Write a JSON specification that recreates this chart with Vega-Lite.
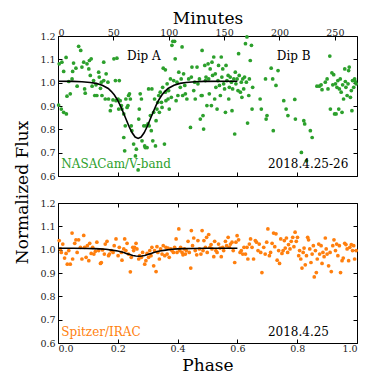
{
  "$schema": "https://vega.github.io/schema/vega-lite/v6.json",
  "background": "white",
  "padding": {"left": 12, "top": 8, "right": 5, "bottom": 0},
  "spacing": 27,
  "bounds": "flush",
  "config": {
    "font": "DejaVu Serif",
    "view": {"stroke": "black", "strokeWidth": 1},
    "axis": {
      "grid": false, "domain": false, "tickColor": "black", "tickSize": -4, "tickWidth": 1,
      "labelFont": "DejaVu Serif", "labelFontSize": 9.5, "labelColor": "#222",
      "titleFont": "DejaVu Serif", "titleFontSize": 17, "titleFontWeight": "normal", "titleColor": "black"
    }
  },
  "datasets": {
    "green": [
      {"phase":0.002,"flux":0.904},{"phase":0.004,"flux":1.081},{"phase":0.013,"flux":1.088},{"phase":0.019,"flux":1.048},{"phase":0.011,"flux":0.887},{"phase":0.019,"flux":0.873},{"phase":0.028,"flux":0.866},{"phase":0.030,"flux":0.942},{"phase":0.027,"flux":1.108},{"phase":0.036,"flux":1.005},{"phase":0.041,"flux":0.952},{"phase":0.047,"flux":1.016},{"phase":0.049,"flux":1.048},{"phase":0.052,"flux":1.084},{"phase":0.060,"flux":1.062},{"phase":0.064,"flux":0.985},{"phase":0.069,"flux":1.156},{"phase":0.076,"flux":1.138},{"phase":0.080,"flux":1.067},{"phase":0.086,"flux":1.088},{"phase":0.089,"flux":0.973},{"phase":0.091,"flux":0.955},{"phase":0.097,"flux":1.081},
      {"phase":0.103,"flux":1.059},{"phase":0.105,"flux":1.095},{"phase":0.108,"flux":1.031},{"phase":0.111,"flux":1.102},{"phase":0.114,"flux":0.985},{"phase":0.119,"flux":1.009},{"phase":0.123,"flux":0.945},{"phase":0.127,"flux":0.991},{"phase":0.130,"flux":0.945},{"phase":0.136,"flux":1.045},{"phase":0.138,"flux":1.024},{"phase":0.142,"flux":0.976},{"phase":0.145,"flux":1.002},{"phase":0.147,"flux":0.945},{"phase":0.153,"flux":1.088},{"phase":0.153,"flux":1.009},{"phase":0.158,"flux":0.930},{"phase":0.161,"flux":1.038},{"phase":0.167,"flux":1.002},{"phase":0.169,"flux":0.930},{"phase":0.175,"flux":0.880},{"phase":0.178,"flux":0.902},{"phase":0.184,"flux":0.926},{"phase":0.187,"flux":1.102},{"phase":0.192,"flux":1.009},{"phase":0.194,"flux":0.923},
      {"phase":0.197,"flux":1.105},{"phase":0.201,"flux":0.930},{"phase":0.203,"flux":0.887},{"phase":0.205,"flux":1.009},{"phase":0.208,"flux":0.923},{"phase":0.212,"flux":0.902},{"phase":0.214,"flux":0.887},{"phase":0.220,"flux":0.866},{"phase":0.220,"flux":0.765},{"phase":0.223,"flux":0.708},{"phase":0.225,"flux":0.815},{"phase":0.227,"flux":0.930},{"phase":0.231,"flux":0.894},{"phase":0.234,"flux":0.902},{"phase":0.236,"flux":0.945},{"phase":0.239,"flux":0.952},{"phase":0.242,"flux":0.930},{"phase":0.245,"flux":0.815},{"phase":0.247,"flux":0.794},{"phase":0.253,"flux":0.737},{"phase":0.259,"flux":0.686},{"phase":0.262,"flux":0.715},{"phase":0.268,"flux":0.626},{"phase":0.270,"flux":0.844},{"phase":0.272,"flux":0.887},{"phase":0.275,"flux":0.952},{"phase":0.279,"flux":0.930},{"phase":0.281,"flux":0.751},{"phase":0.287,"flux":0.815},{"phase":0.290,"flux":0.729},{"phase":0.292,"flux":0.722},{"phase":0.294,"flux":0.815},{"phase":0.298,"flux":0.722},
      {"phase":0.301,"flux":0.823},{"phase":0.303,"flux":0.973},{"phase":0.305,"flux":0.815},{"phase":0.309,"flux":0.859},{"phase":0.312,"flux":0.794},{"phase":0.314,"flux":0.973},{"phase":0.317,"flux":0.751},{"phase":0.320,"flux":0.873},{"phase":0.323,"flux":0.930},{"phase":0.326,"flux":0.729},{"phase":0.328,"flux":0.837},{"phase":0.331,"flux":0.887},{"phase":0.334,"flux":0.916},{"phase":0.337,"flux":0.945},{"phase":0.339,"flux":0.873},{"phase":0.342,"flux":0.959},{"phase":0.346,"flux":0.916},{"phase":0.348,"flux":0.894},{"phase":0.350,"flux":0.980},{"phase":0.352,"flux":1.062},{"phase":0.356,"flux":0.737},{"phase":0.359,"flux":1.055},{"phase":0.359,"flux":0.959},{"phase":0.361,"flux":0.923},{"phase":0.365,"flux":0.995},{"phase":0.368,"flux":0.930},{"phase":0.370,"flux":0.966},{"phase":0.372,"flux":0.887},{"phase":0.376,"flux":1.016},{"phase":0.379,"flux":0.937},{"phase":0.381,"flux":1.160},{"phase":0.384,"flux":1.177},{"phase":0.387,"flux":1.009},{"phase":0.390,"flux":1.177},{"phase":0.392,"flux":1.102},{"phase":0.395,"flux":0.923},{"phase":0.398,"flux":1.002},
      {"phase":0.401,"flux":0.945},{"phase":0.404,"flux":1.045},{"phase":0.409,"flux":0.980},{"phase":0.412,"flux":1.016},{"phase":0.415,"flux":1.153},{"phase":0.417,"flux":0.945},{"phase":0.420,"flux":1.038},{"phase":0.424,"flux":0.988},{"phase":0.426,"flux":0.952},{"phase":0.431,"flux":0.930},{"phase":0.437,"flux":1.016},{"phase":0.443,"flux":0.808},{"phase":0.446,"flux":1.024},{"phase":0.448,"flux":1.067},{"phase":0.454,"flux":0.966},{"phase":0.457,"flux":1.002},{"phase":0.459,"flux":0.930},{"phase":0.465,"flux":1.067},{"phase":0.468,"flux":0.995},{"phase":0.473,"flux":1.016},{"phase":0.476,"flux":0.844},{"phase":0.479,"flux":0.945},{"phase":0.482,"flux":1.138},{"phase":0.482,"flux":0.945},{"phase":0.485,"flux":0.859},{"phase":0.487,"flux":0.801},{"phase":0.491,"flux":1.074},{"phase":0.493,"flux":1.009},{"phase":0.495,"flux":1.024},{"phase":0.498,"flux":0.902},
      {"phase":0.502,"flux":1.081},{"phase":0.504,"flux":1.016},{"phase":0.506,"flux":0.952},{"phase":0.509,"flux":1.059},{"phase":0.513,"flux":0.902},{"phase":0.515,"flux":1.088},{"phase":0.517,"flux":1.031},{"phase":0.521,"flux":1.110},{"phase":0.524,"flux":0.930},{"phase":0.526,"flux":1.038},{"phase":0.528,"flux":0.980},{"phase":0.532,"flux":0.887},{"phase":0.535,"flux":1.009},{"phase":0.537,"flux":1.074},{"phase":0.540,"flux":0.988},{"phase":0.543,"flux":0.945},{"phase":0.546,"flux":1.110},{"phase":0.548,"flux":1.024},{"phase":0.551,"flux":1.059},{"phase":0.554,"flux":0.995},{"phase":0.557,"flux":0.973},{"phase":0.560,"flux":0.873},{"phase":0.562,"flux":1.074},{"phase":0.565,"flux":1.009},{"phase":0.569,"flux":1.031},{"phase":0.571,"flux":0.930},{"phase":0.573,"flux":0.980},{"phase":0.576,"flux":1.024},{"phase":0.580,"flux":1.002},{"phase":0.582,"flux":0.880},{"phase":0.584,"flux":0.973},{"phase":0.588,"flux":1.016},{"phase":0.591,"flux":0.780},{"phase":0.593,"flux":1.045},{"phase":0.595,"flux":0.995},{"phase":0.599,"flux":1.016},
      {"phase":0.602,"flux":0.966},{"phase":0.604,"flux":1.124},{"phase":0.606,"flux":1.031},{"phase":0.610,"flux":0.959},{"phase":0.613,"flux":1.002},{"phase":0.615,"flux":0.937},{"phase":0.618,"flux":1.016},{"phase":0.621,"flux":0.973},{"phase":0.624,"flux":1.024},{"phase":0.627,"flux":1.167},{"phase":0.630,"flux":1.002},{"phase":0.632,"flux":1.196},{"phase":0.634,"flux":0.827},{"phase":0.638,"flux":0.945},{"phase":0.640,"flux":1.016},{"phase":0.643,"flux":1.095},{"phase":0.647,"flux":1.160},{"phase":0.649,"flux":0.887},{"phase":0.651,"flux":0.980},{"phase":0.676,"flux":0.930},{"phase":0.680,"flux":0.887},{"phase":0.694,"flux":1.016},{"phase":0.699,"flux":0.859},{"phase":0.696,"flux":0.844},
      {"phase":0.713,"flux":1.062},{"phase":0.718,"flux":1.016},{"phase":0.720,"flux":0.794},{"phase":0.729,"flux":0.988},{"phase":0.736,"flux":1.052},{"phase":0.755,"flux":0.923},{"phase":0.763,"flux":0.887},{"phase":0.769,"flux":0.859},{"phase":0.792,"flux":0.928},{"phase":0.794,"flux":0.844},{"phase":0.814,"flux":0.701},{"phase":0.822,"flux":0.837},{"phase":0.825,"flux":0.823},{"phase":0.831,"flux":0.665},{"phase":0.844,"flux":0.794},{"phase":0.850,"flux":0.765},
      {"phase":0.866,"flux":0.985},{"phase":0.874,"flux":0.985},{"phase":0.883,"flux":0.970},{"phase":0.880,"flux":0.991},{"phase":0.894,"flux":1.002},{"phase":0.900,"flux":1.016},{"phase":0.903,"flux":0.973},{"phase":0.909,"flux":1.114},{"phase":0.911,"flux":0.887},{"phase":0.916,"flux":1.042},{"phase":0.919,"flux":0.991},{"phase":0.922,"flux":1.034},{"phase":0.925,"flux":0.866},{"phase":0.928,"flux":0.995},{"phase":0.930,"flux":0.866},{"phase":0.933,"flux":0.980},{"phase":0.936,"flux":1.009},{"phase":0.939,"flux":0.887},{"phase":0.941,"flux":0.973},{"phase":0.944,"flux":1.016},{"phase":0.947,"flux":0.959},{"phase":0.950,"flux":0.873},{"phase":0.952,"flux":0.991},{"phase":0.955,"flux":0.930},{"phase":0.959,"flux":1.059},{"phase":0.961,"flux":1.005},{"phase":0.963,"flux":0.980},{"phase":0.967,"flux":0.945},{"phase":0.970,"flux":0.995},{"phase":0.972,"flux":1.052},{"phase":0.974,"flux":1.067},{"phase":0.978,"flux":0.937},{"phase":0.981,"flux":0.966},{"phase":0.983,"flux":0.880},{"phase":0.985,"flux":1.009},{"phase":0.989,"flux":0.980},{"phase":0.992,"flux":1.016},{"phase":0.994,"flux":1.005},{"phase":0.997,"flux":0.995}
    ],
    "orange": [
      {"phase":0.004,"flux":1.039},{"phase":0.008,"flux":1.003},{"phase":0.011,"flux":0.988},{"phase":0.016,"flux":1.024},{"phase":0.022,"flux":0.964},{"phase":0.027,"flux":0.984},{"phase":0.031,"flux":0.938},{"phase":0.036,"flux":0.996},{"phase":0.041,"flux":0.938},{"phase":0.047,"flux":1.071},{"phase":0.049,"flux":0.960},{"phase":0.056,"flux":1.027},{"phase":0.060,"flux":1.042},{"phase":0.064,"flux":0.988},{"phase":0.069,"flux":1.042},{"phase":0.075,"flux":1.010},{"phase":0.080,"flux":0.960},{"phase":0.086,"flux":1.061},{"phase":0.089,"flux":1.010},{"phase":0.094,"flux":0.967},{"phase":0.098,"flux":1.017},
      {"phase":0.103,"flux":0.953},{"phase":0.106,"flux":1.027},{"phase":0.111,"flux":0.984},{"phase":0.116,"flux":1.010},{"phase":0.120,"flux":0.981},{"phase":0.125,"flux":0.993},{"phase":0.130,"flux":1.032},{"phase":0.136,"flux":0.996},{"phase":0.142,"flux":0.941},{"phase":0.145,"flux":0.945},{"phase":0.149,"flux":0.999},{"phase":0.155,"flux":0.981},{"phase":0.158,"flux":1.024},{"phase":0.164,"flux":1.036},{"phase":0.169,"flux":0.974},{"phase":0.172,"flux":0.981},{"phase":0.178,"flux":0.996},{"phase":0.184,"flux":0.988},{"phase":0.188,"flux":1.017},{"phase":0.194,"flux":1.046},
      {"phase":0.201,"flux":0.974},{"phase":0.205,"flux":1.010},{"phase":0.212,"flux":0.988},{"phase":0.214,"flux":0.955},{"phase":0.220,"flux":1.003},{"phase":0.223,"flux":1.046},{"phase":0.227,"flux":0.996},{"phase":0.231,"flux":1.027},{"phase":0.236,"flux":0.981},{"phase":0.242,"flux":0.905},{"phase":0.245,"flux":0.967},{"phase":0.250,"flux":1.010},{"phase":0.253,"flux":0.996},{"phase":0.256,"flux":1.010},{"phase":0.261,"flux":1.027},{"phase":0.264,"flux":1.003},{"phase":0.270,"flux":0.960},{"phase":0.273,"flux":0.974},{"phase":0.279,"flux":0.967},{"phase":0.283,"flux":0.988},{"phase":0.290,"flux":0.938},{"phase":0.294,"flux":0.953},{"phase":0.298,"flux":0.984},
      {"phase":0.303,"flux":0.967},{"phase":0.307,"flux":0.996},{"phase":0.311,"flux":0.974},{"phase":0.314,"flux":1.010},{"phase":0.320,"flux":0.931},{"phase":0.323,"flux":0.996},{"phase":0.328,"flux":0.906},{"phase":0.331,"flux":1.013},{"phase":0.334,"flux":0.988},{"phase":0.339,"flux":0.960},{"phase":0.343,"flux":1.003},{"phase":0.348,"flux":0.981},{"phase":0.352,"flux":1.017},{"phase":0.357,"flux":0.974},{"phase":0.361,"flux":1.010},{"phase":0.365,"flux":0.981},{"phase":0.368,"flux":1.007},{"phase":0.372,"flux":0.967},{"phase":0.377,"flux":1.003},{"phase":0.381,"flux":0.996},{"phase":0.386,"flux":0.988},{"phase":0.390,"flux":1.010},{"phase":0.395,"flux":1.046},{"phase":0.398,"flux":0.988},
      {"phase":0.404,"flux":1.089},{"phase":0.407,"flux":0.996},{"phase":0.410,"flux":1.010},{"phase":0.415,"flux":0.988},{"phase":0.418,"flux":0.978},{"phase":0.423,"flux":1.003},{"phase":0.426,"flux":0.981},{"phase":0.429,"flux":0.996},{"phase":0.435,"flux":1.036},{"phase":0.439,"flux":0.988},{"phase":0.444,"flux":0.921},{"phase":0.446,"flux":1.082},{"phase":0.450,"flux":1.017},{"phase":0.454,"flux":1.050},{"phase":0.459,"flux":0.996},{"phase":0.464,"flux":0.978},{"phase":0.468,"flux":1.039},{"phase":0.473,"flux":1.003},{"phase":0.478,"flux":0.981},{"phase":0.482,"flux":1.082},{"phase":0.485,"flux":0.996},{"phase":0.488,"flux":1.039},{"phase":0.493,"flux":1.010},{"phase":0.497,"flux":1.053},{"phase":0.499,"flux":0.988},
      {"phase":0.504,"flux":1.065},{"phase":0.508,"flux":1.010},{"phase":0.512,"flux":1.022},{"phase":0.515,"flux":1.003},{"phase":0.521,"flux":0.970},{"phase":0.524,"flux":1.036},{"phase":0.528,"flux":0.996},{"phase":0.532,"flux":0.988},{"phase":0.537,"flux":1.024},{"phase":0.542,"flux":1.007},{"phase":0.546,"flux":0.970},{"phase":0.551,"flux":1.010},{"phase":0.554,"flux":0.996},{"phase":0.560,"flux":1.036},{"phase":0.564,"flux":1.017},{"phase":0.569,"flux":1.053},{"phase":0.573,"flux":1.010},{"phase":0.577,"flux":1.024},{"phase":0.582,"flux":1.032},{"phase":0.586,"flux":0.996},{"phase":0.591,"flux":0.945},{"phase":0.595,"flux":1.032},{"phase":0.599,"flux":1.060},
      {"phase":0.604,"flux":1.042},{"phase":0.609,"flux":0.988},{"phase":0.613,"flux":0.996},{"phase":0.618,"flux":0.981},{"phase":0.622,"flux":1.010},{"phase":0.627,"flux":0.981},{"phase":0.632,"flux":1.010},{"phase":0.635,"flux":0.960},{"phase":0.640,"flux":1.024},{"phase":0.644,"flux":1.046},{"phase":0.649,"flux":1.010},{"phase":0.654,"flux":0.960},{"phase":0.660,"flux":1.039},{"phase":0.664,"flux":1.032},{"phase":0.669,"flux":0.996},{"phase":0.673,"flux":1.024},{"phase":0.678,"flux":0.988},{"phase":0.682,"flux":0.902},{"phase":0.688,"flux":1.010},{"phase":0.693,"flux":0.981},{"phase":0.698,"flux":1.032},
      {"phase":0.702,"flux":1.089},{"phase":0.707,"flux":0.974},{"phase":0.711,"flux":0.988},{"phase":0.716,"flux":1.027},{"phase":0.721,"flux":1.071},{"phase":0.725,"flux":1.013},{"phase":0.729,"flux":1.068},{"phase":0.733,"flux":0.955},{"phase":0.738,"flux":0.996},{"phase":0.741,"flux":0.941},{"phase":0.745,"flux":1.046},{"phase":0.749,"flux":0.984},{"phase":0.753,"flux":0.996},{"phase":0.757,"flux":1.039},{"phase":0.760,"flux":1.007},{"phase":0.764,"flux":1.050},{"phase":0.768,"flux":0.988},{"phase":0.771,"flux":1.022},{"phase":0.776,"flux":1.003},{"phase":0.780,"flux":1.036},{"phase":0.785,"flux":1.053},{"phase":0.789,"flux":1.013},{"phase":0.793,"flux":1.075},{"phase":0.797,"flux":1.036},
      {"phase":0.801,"flux":1.053},{"phase":0.805,"flux":0.974},{"phase":0.808,"flux":0.996},{"phase":0.812,"flux":0.960},{"phase":0.816,"flux":0.921},{"phase":0.820,"flux":0.988},{"phase":0.823,"flux":1.007},{"phase":0.827,"flux":0.935},{"phase":0.831,"flux":0.974},{"phase":0.835,"flux":1.053},{"phase":0.838,"flux":1.042},{"phase":0.842,"flux":1.003},{"phase":0.846,"flux":0.945},{"phase":0.850,"flux":0.981},{"phase":0.854,"flux":1.017},{"phase":0.857,"flux":0.883},{"phase":0.861,"flux":0.996},{"phase":0.864,"flux":0.902},{"phase":0.867,"flux":0.960},{"phase":0.872,"flux":1.024},{"phase":0.875,"flux":0.981},{"phase":0.880,"flux":1.017},{"phase":0.883,"flux":0.941},{"phase":0.886,"flux":0.988},{"phase":0.890,"flux":0.970},{"phase":0.894,"flux":1.050},{"phase":0.897,"flux":1.003},
      {"phase":0.900,"flux":0.981},{"phase":0.905,"flux":0.931},{"phase":0.910,"flux":0.988},{"phase":0.914,"flux":0.906},{"phase":0.919,"flux":1.017},{"phase":0.923,"flux":1.042},{"phase":0.928,"flux":0.996},{"phase":0.932,"flux":1.024},{"phase":0.936,"flux":0.974},{"phase":0.941,"flux":1.017},{"phase":0.945,"flux":0.902},{"phase":0.950,"flux":0.953},{"phase":0.954,"flux":0.964},{"phase":0.959,"flux":1.027},{"phase":0.963,"flux":1.022},{"phase":0.967,"flux":1.003},{"phase":0.972,"flux":0.953},{"phase":0.976,"flux":1.010},{"phase":0.981,"flux":1.022},{"phase":0.985,"flux":0.996},{"phase":0.989,"flux":1.017},{"phase":0.992,"flux":0.960},{"phase":0.997,"flux":0.996}
    ],
    "curveA": [
      {"phase":0,"flux":1.006},{"phase":0.05,"flux":1.0055},{"phase":0.08,"flux":1.004},{"phase":0.108,"flux":1.001},{"phase":0.128,"flux":0.997},{"phase":0.148,"flux":0.989},{"phase":0.168,"flux":0.975},{"phase":0.178,"flux":0.963},{"phase":0.188,"flux":0.948},{"phase":0.198,"flux":0.928},{"phase":0.208,"flux":0.9025},{"phase":0.218,"flux":0.873},{"phase":0.228,"flux":0.842},{"phase":0.238,"flux":0.811},{"phase":0.248,"flux":0.785},{"phase":0.258,"flux":0.767},{"phase":0.268,"flux":0.761},{"phase":0.278,"flux":0.767},{"phase":0.288,"flux":0.785},{"phase":0.298,"flux":0.811},{"phase":0.308,"flux":0.842},{"phase":0.318,"flux":0.873},{"phase":0.328,"flux":0.9025},{"phase":0.338,"flux":0.928},{"phase":0.348,"flux":0.948},{"phase":0.358,"flux":0.963},{"phase":0.368,"flux":0.975},{"phase":0.388,"flux":0.989},{"phase":0.408,"flux":0.997},{"phase":0.428,"flux":1.001},{"phase":0.458,"flux":1.004},{"phase":0.488,"flux":1.0055},{"phase":0.6,"flux":1.006}
    ],
    "curveB": [
      {"phase":0,"flux":1.006},{"phase":0.05,"flux":1.006},{"phase":0.1,"flux":1.005},{"phase":0.12,"flux":1.0045},{"phase":0.14,"flux":1.0035},{"phase":0.16,"flux":1.002},{"phase":0.18,"flux":0.998},{"phase":0.2,"flux":0.994},{"phase":0.21,"flux":0.991},{"phase":0.22,"flux":0.988},{"phase":0.23,"flux":0.983},{"phase":0.24,"flux":0.979},{"phase":0.25,"flux":0.975},{"phase":0.26,"flux":0.973},{"phase":0.27,"flux":0.972},{"phase":0.28,"flux":0.973},{"phase":0.29,"flux":0.975},{"phase":0.30,"flux":0.979},{"phase":0.31,"flux":0.983},{"phase":0.32,"flux":0.988},{"phase":0.33,"flux":0.991},{"phase":0.34,"flux":0.994},{"phase":0.36,"flux":0.998},{"phase":0.38,"flux":1.002},{"phase":0.40,"flux":1.0035},{"phase":0.42,"flux":1.0045},{"phase":0.45,"flux":1.005},{"phase":0.5,"flux":1.006},{"phase":0.6,"flux":1.006}
    ],
    "minutes": [{"m":0},{"m":270}],
    "labelsTopBlack": [
      {"phase":0.231,"flux":1.115,"label":"Dip A"},
      {"phase":0.732,"flux":1.115,"label":"Dip B"},
      {"phase":0.702,"flux":0.653,"label":"2018.4.25-26"}
    ],
    "labelsTopGreen": [{"phase":0.011,"flux":0.653,"label":"NASACam/V-band"}],
    "labelsBotBlack": [{"phase":0.702,"flux":0.647,"label":"2018.4.25"}],
    "labelsBotOrange": [{"phase":0.011,"flux":0.647,"label":"Spitzer/IRAC"}]
  },
  "vconcat": [
    {
      "width": 299, "height": 140,
      "layer": [
        {
          "data": {"name": "green"},
          "mark": {"type": "circle", "size": 14, "color": "#2ca02c", "opacity": 1},
          "encoding": {
            "x": {"field": "phase", "type": "quantitative", "scale": {"domain": [0, 1], "nice": false, "zero": false},
                  "axis": {"orient": "bottom", "labels": false, "title": null, "values": [0, 0.2, 0.4, 0.6, 0.8, 1]}},
            "y": {"field": "flux", "type": "quantitative", "scale": {"domain": [0.6, 1.2], "nice": false, "zero": false},
                  "axis": {"orient": "left", "values": [0.6, 0.7, 0.8, 0.9, 1.0, 1.1, 1.2], "format": ".1f", "labelPadding": 7,
                           "title": "Normalized Flux", "titleY": 156, "titleX": -36, "titleAngle": -90, "titleBaseline": "middle", "titleAlign": "center"}}
          }
        },
        {
          "data": {"name": "curveA"},
          "mark": {"type": "line", "color": "black", "strokeWidth": 1.6},
          "encoding": {
            "x": {"field": "phase", "type": "quantitative", "scale": {"domain": [0, 1], "nice": false, "zero": false}, "axis": null},
            "y": {"field": "flux", "type": "quantitative", "scale": {"domain": [0.6, 1.2], "nice": false, "zero": false},
                  "axis": {"orient": "right", "labels": false, "title": null, "values": [0.6, 0.7, 0.8, 0.9, 1.0, 1.1, 1.2]}}
          }
        },
        {
          "data": {"name": "minutes"},
          "mark": {"type": "point", "opacity": 0},
          "encoding": {
            "x": {"field": "m", "type": "quantitative", "scale": {"domain": [0, 270], "nice": false, "zero": false},
                  "axis": {"orient": "top", "values": [0, 50, 100, 150, 200, 250], "title": "Minutes", "labelPadding": 3, "titlePadding": 0}}
          }
        },
        {
          "data": {"name": "labelsTopBlack"},
          "mark": {"type": "text", "align": "left", "baseline": "middle", "fontSize": 12, "color": "black", "font": "DejaVu Serif"},
          "encoding": {
            "x": {"field": "phase", "type": "quantitative", "scale": {"domain": [0, 1], "nice": false, "zero": false}, "axis": null},
            "y": {"field": "flux", "type": "quantitative", "axis": null},
            "text": {"field": "label"}
          }
        },
        {
          "data": {"name": "labelsTopGreen"},
          "mark": {"type": "text", "align": "left", "baseline": "middle", "fontSize": 12, "color": "#2ca02c", "font": "DejaVu Serif"},
          "encoding": {
            "x": {"field": "phase", "type": "quantitative", "scale": {"domain": [0, 1], "nice": false, "zero": false}, "axis": null},
            "y": {"field": "flux", "type": "quantitative", "axis": null},
            "text": {"field": "label"}
          }
        }
      ],
      "resolve": {"scale": {"x": "independent"}, "axis": {"x": "independent", "y": "independent"}}
    },
    {
      "width": 299, "height": 140,
      "layer": [
        {
          "data": {"name": "orange"},
          "mark": {"type": "circle", "size": 14, "color": "#ff7f0e", "opacity": 1},
          "encoding": {
            "x": {"field": "phase", "type": "quantitative", "scale": {"domain": [0, 1], "nice": false, "zero": false},
                  "axis": {"orient": "bottom", "values": [0, 0.2, 0.4, 0.6, 0.8, 1], "format": ".1f", "labelPadding": 4, "title": "Phase", "titlePadding": 5}},
            "y": {"field": "flux", "type": "quantitative", "scale": {"domain": [0.6, 1.2], "nice": false, "zero": false},
                  "axis": {"orient": "left", "values": [0.6, 0.7, 0.8, 0.9, 1.0, 1.1, 1.2], "format": ".1f", "labelPadding": 7, "title": null}}
          }
        },
        {
          "data": {"name": "curveB"},
          "mark": {"type": "line", "color": "black", "strokeWidth": 1.6},
          "encoding": {
            "x": {"field": "phase", "type": "quantitative", "scale": {"domain": [0, 1], "nice": false, "zero": false},
                  "axis": {"orient": "top", "labels": false, "title": null, "values": [0, 0.2, 0.4, 0.6, 0.8, 1]}},
            "y": {"field": "flux", "type": "quantitative", "scale": {"domain": [0.6, 1.2], "nice": false, "zero": false},
                  "axis": {"orient": "right", "labels": false, "title": null, "values": [0.6, 0.7, 0.8, 0.9, 1.0, 1.1, 1.2]}}
          }
        },
        {
          "data": {"name": "labelsBotBlack"},
          "mark": {"type": "text", "align": "left", "baseline": "middle", "fontSize": 12, "color": "black", "font": "DejaVu Serif"},
          "encoding": {
            "x": {"field": "phase", "type": "quantitative", "scale": {"domain": [0, 1], "nice": false, "zero": false}, "axis": null},
            "y": {"field": "flux", "type": "quantitative", "axis": null},
            "text": {"field": "label"}
          }
        },
        {
          "data": {"name": "labelsBotOrange"},
          "mark": {"type": "text", "align": "left", "baseline": "middle", "fontSize": 12, "color": "#ff7f0e", "font": "DejaVu Serif"},
          "encoding": {
            "x": {"field": "phase", "type": "quantitative", "scale": {"domain": [0, 1], "nice": false, "zero": false}, "axis": null},
            "y": {"field": "flux", "type": "quantitative", "axis": null},
            "text": {"field": "label"}
          }
        }
      ],
      "resolve": {"scale": {"x": "independent"}, "axis": {"x": "independent", "y": "independent"}}
    }
  ]
}
